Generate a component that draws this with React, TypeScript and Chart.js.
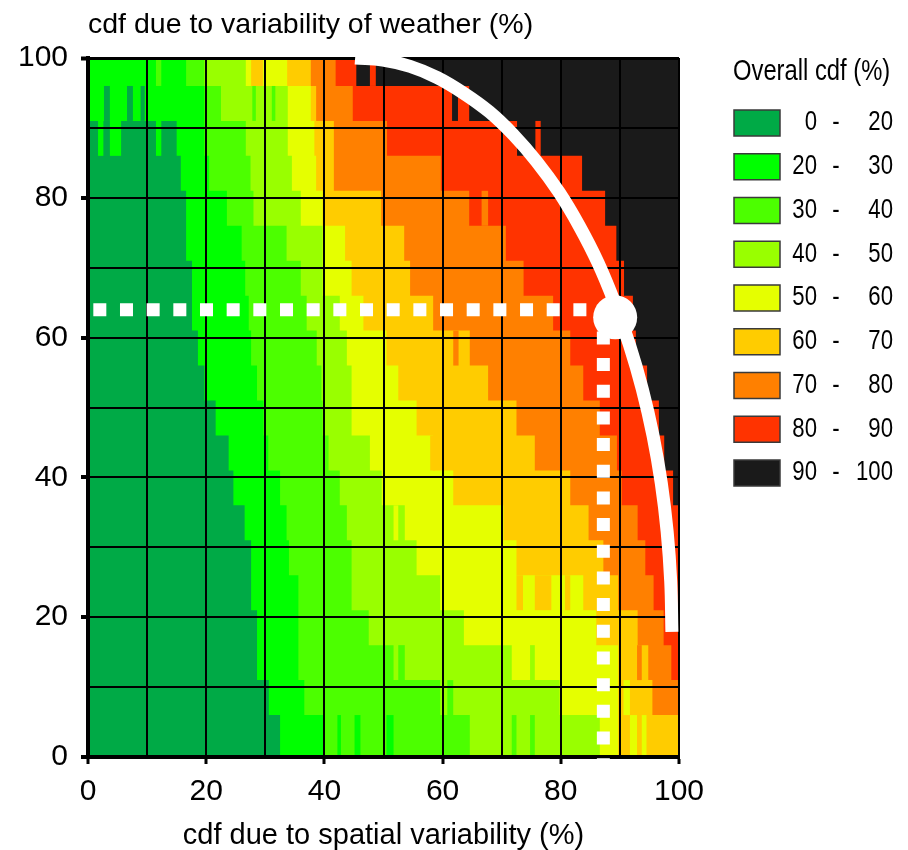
import { useEffect, useRef } from "react";
import { Chart, registerables } from "chart.js";

Chart.register(...registerables);

// Row bands along the weather axis (%), bottom to top.
const ROW_EDGES = [0, 6, 11, 16, 21, 26, 31, 36, 41, 46, 51, 56, 61, 66, 71, 76, 81, 86, 91, 96, 100];

// Spatial cdf (%) where each overall-cdf class ends, one value per row (bottom to top).
const END_20 = [32.5, 30.6, 28.6, 28.6, 27.6, 27.6, 26.5, 24.6, 23.8, 21.6, 19.7, 18.6, 17.6, 17.6, 16.6, 16.6, 15.7, 15.0, 0, 0];
const END_30 = [39.9, 36.6, 35.6, 35.6, 35.6, 34.0, 33.6, 32.5, 30.5, 29.7, 28.6, 27.6, 27.2, 26.6, 26.0, 23.5, 20.5, 19.7, 19.7, 16.6];
const END_40 = [64.6, 59.6, 51.7, 47.5, 44.6, 44.6, 43.8, 42.6, 40.7, 39.7, 39.5, 38.7, 37.0, 36.0, 33.6, 28.0, 27.5, 26.7, 22.5, 19.7];
const END_50 = [86.6, 79.8, 71.7, 63.6, 59.6, 55.6, 53.6, 49.7, 47.7, 44.6, 44.6, 43.8, 42.6, 39.7, 39.7, 36.0, 34.5, 33.8, 33.8, 26.7];
const END_60 = [89.7, 89.7, 89.7, 86.0, 83.8, 72.5, 70.3, 61.8, 58.4, 55.6, 52.5, 50.5, 46.6, 44.6, 43.5, 39.7, 38.6, 38.3, 37.7, 33.7];
const END_70 = [100, 95.5, 94.8, 93.0, 89.7, 87.2, 84.7, 81.6, 75.6, 72.5, 67.7, 64.6, 58.4, 54.5, 53.5, 49.6, 41.6, 41.6, 38.6, 37.7];
const END_80 = [100, 100, 98.7, 97.4, 95.7, 94.3, 93.0, 90.3, 89.5, 86.6, 83.8, 81.6, 78.7, 73.7, 70.7, 64.5, 59.7, 50.6, 44.8, 41.9];
const END_90 = [100, 100, 100, 100, 100, 100, 100, 99.0, 97.5, 96.6, 94.6, 92.7, 92.2, 90.7, 89.4, 87.5, 83.6, 72.6, 64.5, 45.4];

// Narrow runs breaking the stepped classes: [row, from, to, class index].
const SPECKS: [number, number, number, number][] = [
  [19, 11.5, 12.4, 2], [19, 27.6, 29.6, 5], [19, 47.7, 48.7, 7],
  [18, 2.7, 3.7, 0], [18, 6.6, 7.6, 0], [18, 8.9, 9.6, 0],
  [18, 27.8, 28.4, 2], [18, 31.1, 31.7, 2], [18, 61.6, 62.6, 8],
  [17, 1.7, 2.6, 1], [17, 3.7, 5.6, 1], [17, 11.5, 12.4, 1], [17, 75.7, 76.6, 7],
  [15, 66.6, 67.7, 6],
  [11, 61.8, 62.7, 6],
  [8, 57.9, 58.7, 5],
  [6, 51.7, 52.5, 4],
  [4, 72.5, 73.6, 5], [4, 75.6, 78.4, 5], [4, 80.7, 81.6, 5],
  [2, 52.5, 53.6, 2], [2, 74.8, 75.6, 3], [2, 92.9, 93.7, 6],
  [1, 60.8, 61.8, 2], [1, 90.6, 91.7, 4],
  [0, 42.2, 42.8, 1], [0, 45.1, 46.1, 1], [0, 50.5, 51.7, 1],
  [0, 71.7, 72.5, 2], [0, 74.8, 75.6, 2], [0, 91.7, 92.9, 4], [0, 93.7, 94.5, 4],
];

const CLASS_FROM = ["0", "20", "30", "40", "50", "60", "70", "80", "90"];
const CLASS_TO = ["20", "30", "40", "50", "60", "70", "80", "90", "100"];
const CLASS_COLORS = ["#00AA46", "#00FF00", "#4CFF00", "#99FF00", "#E5FF00", "#FFCC00", "#FF8000", "#FF3300", "#1A1A1A"];

// Limit curve, reference crosshair and marked point (both axes in %).
const LIMIT_X = [45.2, 49.9, 54.5, 59.1, 63.5, 67.9, 72.0, 75.9, 79.7, 83.1, 86.3, 89.1, 91.6, 93.8, 95.6, 97.0, 98.0, 98.6, 98.8];
const LIMIT_Y = [100, 99.7, 98.8, 97.2, 95.0, 92.3, 89.0, 85.2, 80.8, 76.0, 70.7, 65.0, 59.0, 52.6, 46.0, 39.2, 32.2, 25.1, 17.9];
const CROSS_H = [{ x: 0.9, y: 64.0 }, { x: 89.2, y: 64.0 }];
const CROSS_V = [{ x: 87.2, y: 64.7 }, { x: 87.2, y: -1.6 }];
const MARKER = [{ x: 89.2, y: 62.9 }];

const AXIS_MIN = 0;
const AXIS_MAX = 100;

const FONT = "'Liberation Sans', Arial, sans-serif";

type Pt = { x: number | null; y: number | null };

function classOutline(ends: number[]): Pt[] {
  const pts: Pt[] = [{ x: AXIS_MIN, y: ROW_EDGES[0] }];
  ends.forEach((e, i) => {
    pts.push({ x: e, y: ROW_EDGES[i] }, { x: e, y: ROW_EDGES[i + 1] });
  });
  pts.push({ x: AXIS_MIN, y: ROW_EDGES[ROW_EDGES.length - 1] });
  return pts;
}

function speckOutline(cls: number): Pt[] {
  const pts: Pt[] = [];
  SPECKS.filter((s) => s[3] === cls).forEach(([row, x0, x1]) => {
    const y0 = ROW_EDGES[row];
    const y1 = ROW_EDGES[row + 1];
    pts.push({ x: x0, y: y0 }, { x: x1, y: y0 }, { x: x1, y: y1 }, { x: x0, y: y1 }, { x: null, y: null });
  });
  return pts;
}

// Narrow text: drawn with a horizontal squeeze around its anchor.
function narrowText(ctx: CanvasRenderingContext2D, text: string, x: number, y: number, align: CanvasTextAlign) {
  ctx.save();
  ctx.translate(x, y);
  ctx.scale(0.82, 1);
  ctx.textAlign = align;
  ctx.fillText(text, 0, 0);
  ctx.restore();
}

const legendPlugin = {
  id: "classLegend",
  afterDraw(chart: any) {
    const ctx = chart.ctx as CanvasRenderingContext2D;
    ctx.save();
    ctx.fillStyle = "#000";
    ctx.textBaseline = "middle";
    ctx.font = `29px ${FONT}`;
    narrowText(ctx, "Overall cdf (%)", 725, 64, "left");
    ctx.font = `27px ${FONT}`;
    CLASS_COLORS.forEach((color, i) => {
      const cy = 115 + i * 43.75;
      ctx.fillStyle = color;
      ctx.fillRect(726, cy - 13, 46, 26);
      ctx.strokeStyle = "#3a3a3a";
      ctx.lineWidth = 1.5;
      ctx.strokeRect(726, cy - 13, 46, 26);
      ctx.fillStyle = "#000";
      narrowText(ctx, CLASS_FROM[i], 809, cy, "right");
      narrowText(ctx, "-", 828, cy, "center");
      narrowText(ctx, CLASS_TO[i], 885, cy, "right");
    });
    ctx.restore();
  },
};

function buildDatasets() {
  const overlay = [
    {
      label: "point",
      data: MARKER,
      showLine: false,
      pointRadius: 22,
      pointBackgroundColor: "#fff",
      pointBorderWidth: 0,
      clip: false,
    },
    {
      label: "limit",
      data: LIMIT_X.map((x, i) => ({ x, y: LIMIT_Y[i] })),
      borderColor: "#fff",
      borderWidth: 13,
      borderCapStyle: "butt",
      tension: 0.4,
      pointRadius: 0,
      clip: false,
    },
    {
      label: "crossH",
      data: CROSS_H,
      borderColor: "#fff",
      borderWidth: 13,
      borderDash: [13, 13.67],
      borderCapStyle: "butt",
      pointRadius: 0,
      clip: false,
    },
    {
      label: "crossV",
      data: CROSS_V,
      borderColor: "#fff",
      borderWidth: 13,
      borderDash: [13, 13.67],
      borderCapStyle: "butt",
      pointRadius: 0,
      clip: false,
    },
  ];
  const specks = CLASS_COLORS.map((color, cls) => ({
    label: `speck${cls}`,
    data: speckOutline(cls),
    fill: "shape",
    backgroundColor: color,
    borderWidth: 0,
    pointRadius: 0,
  }));
  const ends = [END_20, END_30, END_40, END_50, END_60, END_70, END_80, END_90, ROW_EDGES.slice(1).map(() => AXIS_MAX)];
  const classes = ends.map((e, cls) => ({
    label: `${CLASS_FROM[cls]}-${CLASS_TO[cls]}`,
    data: classOutline(e),
    fill: "shape",
    backgroundColor: CLASS_COLORS[cls],
    borderWidth: 0,
    pointRadius: 0,
  }));
  return [...overlay, ...specks, ...classes];
}

const tickMarkColor = (c: any) => (c.tick && c.tick.value % 20 === 0 ? "#000" : "rgba(0,0,0,0)");
const tickLabel = (v: any) => (Number(v) % 20 === 0 ? String(v) : "");

export default function App() {
  const ref = useRef<HTMLCanvasElement>(null);

  useEffect(() => {
    document.documentElement.style.overflow = "hidden";
    document.body.style.overflow = "hidden";
    const canvas = ref.current;
    if (!canvas) return;
    const chart = new Chart(canvas, {
      type: "line",
      data: { datasets: buildDatasets() as any },
      plugins: [legendPlugin],
      options: {
        responsive: false,
        animation: false,
        devicePixelRatio: 1,
        events: [],
        layout: { padding: { left: 0, right: 221, top: 0, bottom: 0 } },
        plugins: {
          legend: { display: false },
          tooltip: { enabled: false },
          filler: { propagate: false, drawTime: "beforeDraw" },
          title: {
            display: true,
            text: "cdf due to variability of weather (%)",
            align: "start",
            fullSize: false,
            color: "#000",
            font: { family: FONT, size: 28.5, weight: "normal", lineHeight: 1 },
            padding: { top: 3, bottom: 18.5 },
          },
        } as any,
        scales: {
          x: {
            type: "linear",
            min: AXIS_MIN,
            max: AXIS_MAX,
            afterFit: (s: any) => {
              s.height = 93;
            },
            ticks: {
              stepSize: 10,
              autoSkip: false,
              maxRotation: 0,
              padding: 10,
              color: "#000",
              font: { family: FONT, size: 30 },
              callback: tickLabel,
            },
            grid: { color: "#000", lineWidth: 2, tickLength: 7, tickWidth: 3, tickColor: tickMarkColor },
            border: { display: true, color: "#000", width: 4 },
            title: {
              display: true,
              text: "cdf due to spatial variability (%)",
              color: "#000",
              font: { family: FONT, size: 29, lineHeight: 1 },
              padding: { top: 0, bottom: 0 },
            },
          },
          y: {
            type: "linear",
            min: AXIS_MIN,
            max: AXIS_MAX,
            afterFit: (s: any) => {
              s.width = 80;
            },
            ticks: {
              stepSize: 10,
              autoSkip: false,
              padding: 13,
              color: "#000",
              font: { family: FONT, size: 30 },
              callback: tickLabel,
            },
            grid: {
              color: "#000",
              lineWidth: (c: any) => (c.tick && c.tick.value === AXIS_MAX ? 3 : 2),
              tickLength: 7,
              tickWidth: 4,
              tickColor: tickMarkColor,
            },
            border: { display: true, color: "#000", width: 4 },
          },
        } as any,
      },
    });
    return () => chart.destroy();
  }, []);

  return (
    <div style={{ width: 892, height: 842 }}>
      <canvas ref={ref} width={892} height={842} style={{ display: "block", width: 892, height: 842 }} />
    </div>
  );
}
